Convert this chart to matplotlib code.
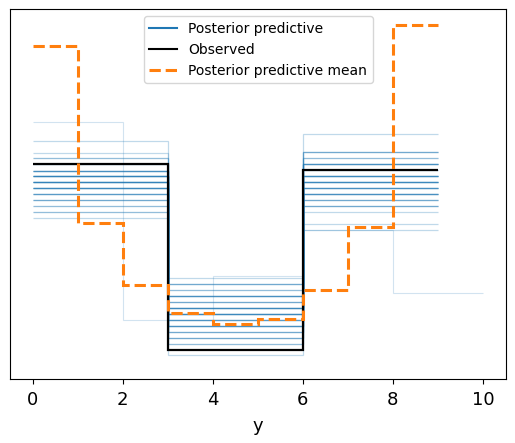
import matplotlib
matplotlib.use("Agg")
import matplotlib.pyplot as plt
from matplotlib.lines import Line2D

# posterior predictive draws, 3 bins of width 3 (0-3, 3-6, 6-9): level -> how many draws
pp_low_levels = [0.1742, 0.1654, 0.1614, 0.1572, 0.1523, 0.1483, 0.1439, 0.1395, 0.1352, 0.1308, 0.1264, 0.1221, 0.1177]
pp_low_counts = [1, 1, 2, 3, 5, 7, 7, 6, 4, 3, 2, 2, 1]
pp_mid_levels = [0.0740, 0.0697, 0.0655, 0.0611, 0.0568, 0.0524, 0.0480, 0.0437, 0.0393, 0.0349, 0.0306, 0.0262, 0.0178]
pp_mid_counts = [1, 3, 2, 5, 3, 6, 6, 4, 5, 3, 3, 2, 1]
pp_high_levels = [0.1788, 0.1657, 0.1614, 0.1570, 0.1528, 0.1483, 0.1439, 0.1395, 0.1352, 0.1308, 0.1264, 0.1221, 0.1133, 0.1090]
pp_high_counts = [1, 3, 2, 5, 2, 6, 6, 5, 5, 3, 3, 1, 1, 1]
pp_edges = [0, 3, 6, 9]

# one draw that got bins of width 2
pp_wide_edges = [0, 2, 4, 6, 8, 10]
pp_wide = [0.1878, 0.0437, 0.0759, 0.1090, 0.0633]

# observed data
obs_edges = [0, 3, 6, 9]
obs = [0.1574, 0.0221, 0.1531]

# posterior predictive mean, unit bins
mean_edges = [0, 1, 2, 3, 4, 5, 6, 7, 8, 9]
pp_mean = [0.2431, 0.1143, 0.0691, 0.0485, 0.0405, 0.0444, 0.0651, 0.1116, 0.2584]


def expand(levels, counts):
    out = []
    for lev, c in zip(levels, counts):
        out += [lev] * c
    return out


low = expand(pp_low_levels, pp_low_counts)
mid = expand(pp_mid_levels, pp_mid_counts)
high = expand(pp_high_levels, pp_high_counts)

fig = plt.figure(figsize=(5.15, 4.43), dpi=100)
ax = fig.add_subplot(1, 1, 1)
fig.subplots_adjust(left=0.02, right=0.983, bottom=0.144, top=0.979)

for a, b, c in zip(low, mid, high):
    ax.stairs([a, b, c], pp_edges, baseline=None, color="C0", alpha=0.28, lw=0.9)
ax.stairs(pp_wide, pp_wide_edges, baseline=None, color="C0", alpha=0.2, lw=0.8)

ax.stairs(obs, obs_edges, baseline=None, color="k", lw=1.6)
ax.stairs(pp_mean, mean_edges, baseline=None, color="C1", lw=2.2, linestyle="--")

ax.set_xlim(-0.5, 10.52)
ax.set_ylim(0.0005, 0.2698)
ax.set_yticks([])
ax.set_xticks([0, 2, 4, 6, 8, 10])
ax.tick_params(axis="x", labelsize=13, pad=5)
ax.set_xlabel("y", fontsize=13, labelpad=6)

handles = [
    Line2D([], [], color="C0", lw=1.5),
    Line2D([], [], color="k", lw=1.5),
    Line2D([], [], color="C1", lw=2.2, linestyle="--"),
]
ax.legend(handles, ["Posterior predictive", "Observed", "Posterior predictive mean"],
          loc="upper center", fontsize=10)

fig.savefig("out.png", dpi=100)
plt.close(fig)
